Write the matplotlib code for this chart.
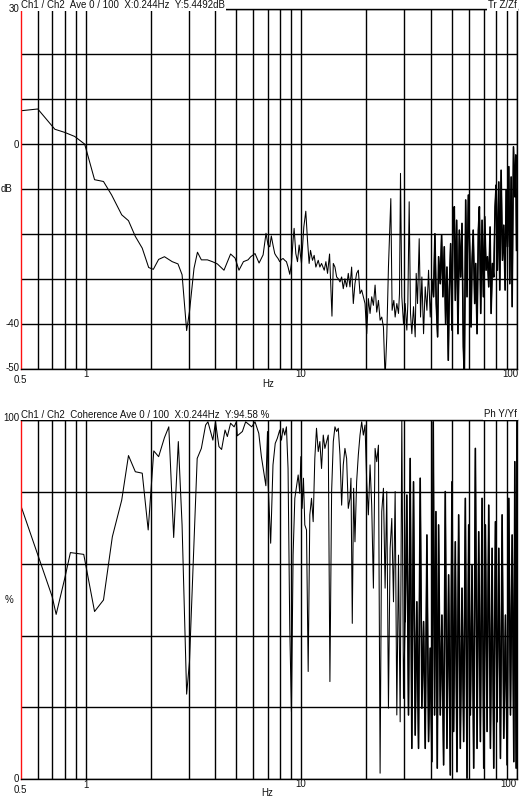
import matplotlib
matplotlib.use("Agg")
import matplotlib.pyplot as plt
from matplotlib.ticker import FixedLocator, NullFormatter

plt.rcParams['font.family'] = ['Liberation Sans', 'DejaVu Sans']

# Transfer function magnitude (dB)
mag_freq = [0.5, 0.6, 0.72, 0.8, 0.89, 0.99, 1.10, 1.21, 1.32, 1.47, 1.58, 1.70, 1.83, 1.96,
            2.06, 2.18, 2.32, 2.52, 2.68, 2.80, 2.94, 3.03, 3.18, 3.30, 3.44, 3.67, 3.87, 4.08,
            4.38, 4.70, 4.93, 5.14, 5.39, 5.66, 5.83, 6.10, 6.37, 6.65, 6.86,
            7.01, 7.14, 7.26, 7.39, 7.53, 7.66, 7.80, 7.94, 8.09, 8.23, 8.38, 8.53, 8.68, 8.84,
            9.00, 9.16, 9.26, 9.43, 9.60, 9.77, 10.02, 10.27, 10.49, 10.68, 10.87, 11.03, 11.27,
            11.47, 11.68, 11.98, 12.19, 12.41, 12.77, 13.00, 13.23, 13.52, 13.72, 13.87, 14.07,
            14.32, 14.58, 14.84, 15.11, 15.38, 15.65, 15.93, 16.22, 16.51, 16.81, 17.11, 17.42,
            17.73, 18.05, 18.38, 18.71, 19.05, 19.39, 19.74, 20.10, 20.46, 20.83, 21.20, 21.59,
            21.98, 22.37, 22.78, 23.19, 23.60, 24.03, 24.46, 24.90, 25.35, 26.0, 26.36, 26.85,
            27.23, 27.72, 28.22, 28.52, 28.83, 29.24, 29.77, 30.30, 30.85, 31.18, 31.63, 32.08,
            32.54, 33.13, 33.73, 34.09, 34.58, 35.20, 35.71, 36.22, 36.88, 37.54, 38.22, 38.90,
            39.60, 40.32, 41.04, 41.63, 42.23, 42.85, 43.30, 44.08, 44.71, 45.35, 46.01, 46.67,
            47.34, 48.02, 48.54, 49.24, 49.94, 50.47, 51.21, 51.76, 52.50, 53.25, 54.03, 54.80,
            55.59, 56.39, 57.00, 57.82, 58.65, 59.49, 60.34, 61.22, 61.87, 62.65, 63.66, 64.35,
            65.28, 66.21, 66.93, 67.89, 68.87, 69.86, 70.86, 71.88, 72.92, 73.96, 75.03, 75.84,
            76.93, 78.03, 79.14, 80.00, 81.15, 82.32, 83.20, 84.40, 85.62, 86.84, 88.09, 89.05,
            90.32, 91.62, 92.60, 93.94, 94.95, 96.31, 97.69, 98.75, 99.46]
mag_db = [7.4, 7.8, 3.3, 2.6, 1.7, 0.0, -7.9, -8.3, -11.3, -15.7, -17.0, -20.5, -23.1, -27.4,
          -27.8, -25.6, -25.0, -26.1, -26.6, -29.0, -41.4, -37.2, -27.6, -24.0, -25.7, -25.7, -26.1, -26.6,
          -28.0, -24.4, -25.3, -28.0, -26.1, -25.7, -25.0, -24.3, -26.4, -24.6, -19.8,
          -22.4, -22.8, -20.4, -22.4, -24.3, -24.9, -25.4, -26.1, -25.6, -25.4, -25.8, -26.1, -27.3, -28.9,
          -26.5, -21.3, -18.7, -24.3, -26.1, -22.4, -26.5, -18.4, -14.9, -21.3, -26.5, -23.6, -25.8,
          -24.7, -27.3, -25.8, -27.3, -26.5, -28.0, -26.1, -28.7, -24.4, -32.4, -38.2, -26.5,
          -27.3, -29.5, -29.9, -30.6, -29.5, -32.1, -29.9, -31.7, -28.7, -31.7, -27.3, -35.4,
          -31.0, -28.7, -28.0, -33.2, -32.4, -33.9, -35.4, -42.1, -34.3, -37.6, -33.9, -35.8,
          -31.3, -37.3, -34.7, -39.1, -38.4, -40.6, -52.0, -42.8, -27.3, -12.1, -36.9, -34.7,
          -38.4, -35.4, -37.6, -33.2, -6.5, -33.9, -39.9, -35.4, -41.3, -35.4, -12.8, -37.6,
          -42.1, -36.1, -42.8, -28.7, -35.4, -21.0, -38.4, -29.5, -42.1, -31.7, -36.9, -28.0,
          -38.4, -30.2, -33.9, -19.9, -35.4, -42.8, -25.0, -31.0, -20.2, -33.9, -22.8, -39.9,
          -27.3, -48.0, -32.4, -22.1, -41.3, -18.4, -13.9, -34.7, -16.9, -42.1, -19.1, -29.5,
          -17.6, -45.0, -52.0, -12.4, -33.9, -11.3, -22.8, -40.6, -26.5, -19.1, -35.4, -26.5,
          -42.1, -19.1, -13.9, -37.6, -16.9, -33.9, -16.1, -28.0, -25.0, -31.7, -18.4, -37.6,
          -26.5, -29.5, -13.9, -9.1, -28.0, -8.4, -32.4, -5.8, -25.8, -18.0, -32.4, -10.2,
          -22.8, -5.0, -31.0, -7.3, -36.1, -0.6, -11.7, -2.4, -23.6]

# Coherence (%)
coh_freq = [0.5, 0.59, 0.70, 0.73, 0.80, 0.85, 0.98, 1.10, 1.21, 1.33, 1.47, 1.58, 1.70, 1.83,
            1.95, 2.07, 2.18, 2.32, 2.43, 2.56, 2.69, 2.80, 2.94, 3.03, 3.29, 3.44, 3.60, 3.69,
            3.89, 4.00, 4.15, 4.27, 4.43, 4.54, 4.70, 4.88, 5.00, 5.05, 5.33, 5.52, 5.89, 6.10,
            6.35, 6.53, 6.85, 6.97,
            7.01, 7.21, 7.39, 7.57, 7.74, 7.94, 8.09, 8.23, 8.38, 8.53, 8.68, 8.84, 9.00, 9.16,
            9.33, 9.50, 9.67, 9.84, 9.95, 10.09, 10.23, 10.38, 10.57, 10.76, 10.95, 11.15, 11.35,
            11.55, 11.76, 11.98, 12.19, 12.41, 12.64, 12.86, 13.10, 13.33, 13.57, 13.82, 14.07,
            14.32, 14.58, 14.84, 15.11, 15.38, 15.65, 15.93, 16.22, 16.51, 16.81, 16.99, 17.23,
            17.48, 17.73, 18.05, 18.38, 18.71, 19.05, 19.39, 19.74, 20.10, 20.46, 20.83, 21.20,
            21.59, 21.98, 22.37, 22.78, 23.19, 23.60, 24.03, 24.46, 24.90, 25.35, 25.81, 26.27,
            26.75, 27.23, 27.72, 28.22, 28.73, 29.24, 29.77, 30.30, 30.85, 31.40, 31.97, 32.54,
            33.13, 33.73, 34.33, 34.95, 35.58, 36.22, 36.88, 37.54, 38.22, 38.90, 39.60, 40.32,
            40.90, 41.48, 42.08, 42.69, 43.30, 44.08, 44.87, 45.68, 46.50, 47.34, 48.19, 49.06,
            49.94, 50.84, 51.76, 52.69, 53.64, 54.60, 55.59, 56.59, 57.61, 58.65, 59.70, 60.78,
            61.87, 62.99, 64.12, 65.28, 66.45, 67.65, 68.87, 70.11, 71.37, 72.66, 73.96, 75.30,
            76.65, 78.03, 79.43, 80.86, 82.32, 83.80, 85.31, 86.84, 88.41, 90.00, 91.62, 93.27,
            94.95, 96.66, 97.69, 99.10, 100.0]
coh_pct = [76.3, 63.8, 50.8, 45.9, 55.9, 63.1, 62.6, 46.7, 49.9, 67.5, 77.7, 90.1, 85.6, 85.2,
           69.4, 91.4, 89.8, 95.1, 98.1, 67.3, 94.0, 70.8, 23.7, 32.7, 89.3, 92.1, 98.6, 99.5,
           94.4, 99.5, 92.6, 91.8, 97.2, 95.4, 99.1, 98.1, 99.5, 95.6, 96.8, 99.5, 98.1, 99.5,
           96.3, 89.8, 81.7, 96.8,
           82.8, 65.7, 87.5, 93.5, 94.9, 97.2, 94.4, 97.7, 95.8, 98.1, 86.5, 42.0, 18.8, 62.4,
           78.2, 81.4, 84.7, 79.6, 89.8, 75.4, 83.8, 70.8, 69.4, 30.0, 73.6, 78.2, 71.7,
           89.3, 97.7, 91.2, 94.0, 86.5, 95.8, 92.1, 94.0, 95.8, 27.2, 80.1, 94.0,
           98.1, 96.8, 97.7, 90.3, 76.3, 87.5, 92.1, 89.3, 75.4, 78.2, 83.8, 43.4,
           81.0, 66.1, 82.8, 90.3, 95.8, 99.5, 95.8, 98.6, 82.8, 73.6, 87.5, 76.3,
           53.2, 92.1, 88.4, 93.0, 1.7, 74.5, 81.0, 53.2, 80.1, 19.8, 64.3, 72.6,
           49.4, 80.1, 17.9, 62.4, 16.0, 100.0, 22.5, 43.9, 79.1, 17.9, 89.3, 8.6,
           82.8, 12.3, 49.4, 8.6, 83.8, 19.8, 43.9, 8.6, 68.0, 10.5, 36.5, 4.9,
           99.5, 17.9, 74.5, 3.1, 70.8, 17.9, 45.7, 4.0, 80.1, 8.6, 56.9, 1.2,
           82.8, 13.3, 66.1, 2.1, 73.6, 8.6, 53.2, 10.5, 78.2, 0.3, 70.8, 17.9,
           59.6, 3.1, 92.1, 8.6, 68.9, 10.5, 78.2, 3.1, 70.8, 13.3, 76.3, 8.6,
           64.3, 3.1, 71.7, 16.0, 64.3, 5.8, 73.6, 11.4, 45.7, 4.0, 78.2, 17.9,
           68.0, 4.9, 88.4, 3.1, 99.5]

W, H = 525, 801
fig = plt.figure(figsize=(W / 100, H / 100), dpi=100)


def fx(x):
    return x / W


def fy(y):
    return 1 - y / H


minor_x = [0.6, 0.7, 0.8, 0.9] + list(range(2, 10)) + list(range(20, 100, 10))


def setup_axes(ax, ylim, ystep):
    ax.set_xscale('log')
    ax.set_xlim(0.5, 100)
    ax.set_ylim(*ylim)
    ax.xaxis.set_major_locator(FixedLocator([1, 10, 100]))
    ax.xaxis.set_minor_locator(FixedLocator(minor_x))
    ax.xaxis.set_major_formatter(NullFormatter())
    ax.xaxis.set_minor_formatter(NullFormatter())
    ax.set_yticks(list(range(ylim[0], ylim[1] + 1, ystep)))
    ax.yaxis.set_major_formatter(NullFormatter())
    ax.tick_params(which='both', length=0)
    ax.grid(True, which='both', color='black', linewidth=1.0)
    ax.set_axisbelow(True)
    for s in ['top', 'right', 'bottom']:
        ax.spines[s].set_color('black')
        ax.spines[s].set_linewidth(1.0)
    ax.spines['left'].set_color('#ff1010')
    ax.spines['left'].set_linewidth(1.0)


def plot_trace(ax, freq, vals, split):
    # the analyser trace is so dense above `split` Hz that it reads as a heavier line
    ax.plot(freq, vals, color='black', linewidth=0.75)
    i = next(k for k, f in enumerate(freq) if f >= split)
    ax.plot(freq[i:], vals[i:], color='black', linewidth=1.15)


fs = 7
txt = dict(fontsize=fs, color='#111111')

# ---- top panel: magnitude
ax1 = fig.add_axes([fx(20.7), fy(369.3), fx(517 - 20.7), (369.3 - 9) / H])
setup_axes(ax1, (-50, 30), 10)
plot_trace(ax1, mag_freq, mag_db, 40)

fig.text(fx(21), fy(5), "Ch1 / Ch2  Ave 0 / 100  X:0.244Hz  Y:5.4492dB", ha='left', va='center',
         bbox=dict(facecolor='white', edgecolor='none', pad=0.6), **txt)
fig.text(fx(517), fy(5), "Tr Z/Zf", ha='right', va='center',
         bbox=dict(facecolor='white', edgecolor='none', pad=0.6), **txt)
for lab, y in [("30", 9), ("0", 144.5), ("-40", 324), ("-50", 368)]:
    fig.text(fx(19.5), fy(y), lab, ha='right', va='center', **txt)
fig.text(fx(1), fy(189), "dB", ha='left', va='center', **txt)
fig.text(fx(20.5), fy(380), "0.5", ha='center', va='center', **txt)
fig.text(fx(85.5), fy(374), "1", ha='center', va='center', **txt)
fig.text(fx(301), fy(374), "10", ha='center', va='center', **txt)
fig.text(fx(518), fy(374), "100", ha='right', va='center', **txt)
fig.text(fx(268), fy(384), "Hz", ha='center', va='center', **txt)

# ---- bottom panel: coherence
ax2 = fig.add_axes([fx(20.7), fy(779.3), fx(517 - 20.7), (779.3 - 420) / H])
setup_axes(ax2, (0, 100), 20)
plot_trace(ax2, coh_freq, coh_pct, 30)

fig.text(fx(21), fy(414.5), "Ch1 / Ch2  Coherence Ave 0 / 100  X:0.244Hz  Y:94.58 %", ha='left',
         va='center', bbox=dict(facecolor='white', edgecolor='none', pad=0.6), **txt)
fig.text(fx(517), fy(414), "Ph Y/Yf", ha='right', va='center',
         bbox=dict(facecolor='white', edgecolor='none', pad=0.6), **txt)
fig.text(fx(19.5), fy(417.5), "100", ha='right', va='center', **txt)
fig.text(fx(19.5), fy(779.5), "0", ha='right', va='center', **txt)
fig.text(fx(5), fy(600), "%", ha='left', va='center', **txt)
fig.text(fx(20.5), fy(790), "0.5", ha='center', va='center', **txt)
fig.text(fx(85.5), fy(784.5), "1", ha='center', va='center', **txt)
fig.text(fx(301), fy(784), "10", ha='center', va='center', **txt)
fig.text(fx(516), fy(784), "100", ha='right', va='center', **txt)
fig.text(fx(267), fy(793.5), "Hz", ha='center', va='center', **txt)

fig.savefig("out.png", dpi=100, facecolor='white')
